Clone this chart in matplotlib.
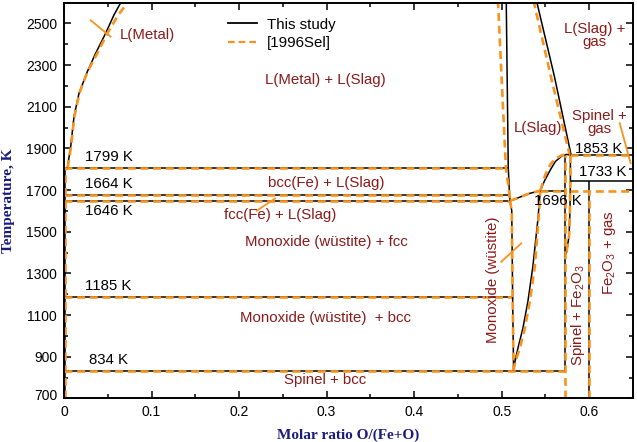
import matplotlib
matplotlib.use("Agg")
import matplotlib.pyplot as plt
from matplotlib.ticker import MultipleLocator
import matplotlib.transforms as mtransforms

plt.rcParams['font.family'] = ['Liberation Sans', 'DejaVu Sans']
plt.rcParams['mathtext.fontset'] = 'custom'
plt.rcParams['mathtext.rm'] = 'Liberation Sans'

ORANGE = '#f7931e'
RED = '#8b1a1a'
NAVY = '#1b1b80'

# ---- data (x = O/(Fe+O), T in K) ----
# horizontal invariant lines (both data sets)
iso_T = [1807, 1676, 1649, 1189, 833]
iso_x_end = [0.5075, 0.509, 0.5095, 0.5125, 0.572]

# L(Metal) liquidus
metal_T = [1807, 1908, 2052, 2164, 2268, 2356, 2452, 2540, 2610]
study_metal_x = [0.0038, 0.0076, 0.0114, 0.0171, 0.0266, 0.0361, 0.0475, 0.0570, 0.0662]
sel_metal_x = [0.0042, 0.0080, 0.0118, 0.0175, 0.0268, 0.0380, 0.0494, 0.0620, 0.0745]

# L(Slag) boundary of the miscibility gap
slag_T = [2610, 1807, 1676, 1649]
study_slag_x = [0.5052, 0.5075, 0.509, 0.5095]
sel_slag_x = [0.4957, 0.5048, 0.509, 0.5095]

# wustite, Fe-rich side
wus_fe_x = [0.5095, 0.5115, 0.5125, 0.5136]
wus_fe_T = [1649, 1600, 1189, 833]

# wustite, O-rich side
study_wus_o_x = [0.5136, 0.5147, 0.5185, 0.5242, 0.5299, 0.5356, 0.5413, 0.5432, 0.5441]
sel_wus_o_x = [0.5136, 0.515, 0.5207, 0.5264, 0.5321, 0.5378, 0.542, 0.5435, 0.5441]
wus_o_T = [833, 868, 940, 1036, 1164, 1332, 1556, 1652, 1697]

# slag liquidus above wustite
wus_liq_x = [0.5095, 0.514, 0.522, 0.532, 0.5441]
wus_liq_T = [1649, 1655, 1668, 1684, 1697]

# spinel liquidus
study_sp_liq_x = [0.5441, 0.549, 0.5556, 0.5613, 0.5689, 0.574, 0.5785]
study_sp_liq_T = [1697, 1745, 1797, 1837, 1864, 1871, 1868]
sel_sp_liq_x = [0.5441, 0.550, 0.556, 0.562, 0.569, 0.5745, 0.5785]
sel_sp_liq_T = [1697, 1775, 1825, 1853, 1867, 1872, 1868]

# slag / gas boundary
study_gas_x = [0.5397, 0.5603, 0.5793]
study_gas_T = [2610, 2244, 1868]
sel_gas_x = [0.5363, 0.557, 0.5774]
sel_gas_T = [2610, 2230, 1873]

# spinel O-rich side
sp_o_x = [0.5785, 0.5785, 0.578, 0.577, 0.574, 0.572]
sp_o_T = [1868, 1743, 1600, 1480, 1400, 1380]

# spinel Fe-rich side
sp_fe_x = 0.572
study_sp_fe_T = [833, 1870]
sel_sp_fe_T = [700, 1870]

# hematite
hem_x = 0.6
study_hem_T = [700, 1743]
sel_hem_T = [700, 1697]

# right-hand invariants
eut_T = 1697
study_right_T = [1868, 1743]
sel_right_T = [1868, 1697]

xticks = [0, 0.1, 0.2, 0.3, 0.4, 0.5, 0.6]
xticklabels = ['0', '0.1', '0.2', '0.3', '0.4', '0.5', '0.6']
yticks = [700, 900, 1100, 1300, 1500, 1700, 1900, 2100, 2300, 2500]

fig = plt.figure(figsize=(6.37, 4.42), dpi=100)
ax = fig.add_axes([0.1005, 0.0986, 0.8932, 0.8957])

blk = dict(color='black', lw=1.1, solid_capstyle='butt')
org = dict(color=ORANGE, lw=1.9, dashes=(3.0, 1.8))


def both(x, y, x2=None, y2=None):
    ax.plot(x, y, **blk)
    ax.plot(x if x2 is None else x2, y if y2 is None else y2, **org)


# left edge (pure Fe)
both([0.0015, 0.0015], [700, 1807])

for T, xe in zip(iso_T, iso_x_end):
    both([0, xe], [T, T])

both(study_metal_x, metal_T, sel_metal_x, metal_T)
both(study_slag_x, slag_T, sel_slag_x, slag_T)
both(wus_fe_x, wus_fe_T)
both(study_wus_o_x, wus_o_T, sel_wus_o_x, wus_o_T)
both(wus_liq_x, wus_liq_T)
both([0.5441, sp_fe_x], [eut_T, eut_T])
both(study_sp_liq_x, study_sp_liq_T, sel_sp_liq_x, sel_sp_liq_T)
both(study_gas_x, study_gas_T, sel_gas_x, sel_gas_T)
both(sp_o_x, sp_o_T)
both([sp_fe_x, sp_fe_x], study_sp_fe_T, [sp_fe_x, sp_fe_x], sel_sp_fe_T)
both([hem_x, hem_x], study_hem_T, [hem_x, hem_x], sel_hem_T)

for T in study_right_T:
    ax.plot([0.5785, 0.65], [T, T], **blk)
for T in sel_right_T:
    ax.plot([0.5785, 0.65], [T, T], **org)

# legend
ax.plot([], [], label='This study', color='black', lw=1.3)
ax.plot([], [], label='[1996Sel]', color=ORANGE, lw=1.6, dashes=(3.0, 1.8))
ax.legend(loc='upper left', bbox_to_anchor=(0.288, 0.962), frameon=False,
          fontsize=10.8, borderpad=0, borderaxespad=0, handlelength=1.95,
          handletextpad=0.65, labelspacing=0.3)

# leader lines
lead = dict(color=ORANGE, lw=1.3)
ax.plot([0.0304, 0.0532], [2515, 2436], **lead)
ax.plot([0.2203, 0.2413], [1601, 1660], **lead)
ax.plot([0.4995, 0.5223], [1356, 1444], **lead)
ax.plot([0.6348, 0.6473], [2021, 1829], **lead)

fs = 10.8
rt = dict(color=RED, fontsize=fs, ha='center', va='center')
kt = dict(color='black', fontsize=fs, va='center')
ax.text(0.0638, 2444, 'L(Metal)', color=RED, fontsize=fs, ha='left', va='center')
ax.text(0.2991, 2228, 'L(Metal) + L(Slag)', **rt)
ax.text(0.6063, 2441, 'L(Slag) +\ngas', linespacing=0.95, **rt)
ax.text(0.612, 2024, 'Spinel +\ngas', linespacing=0.95, **rt)
ax.text(0.5413, 1998, 'L(Slag)', **rt)
ax.text(0.2991, 1735, 'bcc(Fe) + L(Slag)', **rt)
ax.text(0.247, 1580, 'fcc(Fe) + L(Slag)', **rt)
ax.text(0.3001, 1452, 'Monoxide (wüstite) + fcc', **rt)
ax.text(0.2991, 1084, 'Monoxide (wüstite)  + bcc', **rt)
ax.text(0.2982, 788, 'Spinel + bcc', **rt)
ax.text(0.490, 1268, 'Monoxide (wüstite)', rotation=90, **rt)
ax.text(0.5869, 1100, 'Spinel + Fe$_2$O$_3$', rotation=90, **rt)
ax.text(0.623, 1398, 'Fe$_2$O$_3$ + gas', rotation=90, **rt)

ax.text(0.0239, 1858, '1799 K', ha='left', **kt)
ax.text(0.0239, 1727, '1664 K', ha='left', **kt)
ax.text(0.0239, 1599, '1646 K', ha='left', **kt)
ax.text(0.0239, 1239, '1185 K', ha='left', **kt)
ax.text(0.0285, 884, '834 K', ha='left', **kt)
ax.text(0.6106, 1897, '1853 K', ha='center', **kt)
ax.text(0.6154, 1788, '1733 K', ha='center', **kt)
ax.text(0.564, 1649, '1696 K', ha='center', **kt)

ax.set_xlim(0, 0.65)
ax.set_ylim(700, 2600)
ax.set_xticks(xticks)
ax.set_xticklabels(xticklabels)
ax.set_yticks(yticks)
ax.xaxis.set_minor_locator(MultipleLocator(0.05))
ax.yaxis.set_minor_locator(MultipleLocator(100))
ax.tick_params(which='both', direction='in', top=True, right=True,
               labelsize=10, width=1.1, pad=5)
ax.tick_params(which='major', length=5)
ax.tick_params(which='minor', length=3)
for s in ax.spines.values():
    s.set_linewidth(1.4)

# the "700" label sits a little higher in the reference
lbl700 = ax.get_yticklabels()[0]
lbl700.set_transform(lbl700.get_transform() +
                     mtransforms.ScaledTranslation(0, 4 / 100, fig.dpi_scale_trans))

lab = dict(family=['Liberation Serif', 'DejaVu Serif'], fontweight='bold',
           fontsize=11, color=NAVY)
ax.set_xlabel('Molar ratio O/(Fe+O)', labelpad=6.5, **lab)
ax.set_ylabel('Temperature, K', labelpad=8, **lab)

fig.savefig('out.png', dpi=100)
